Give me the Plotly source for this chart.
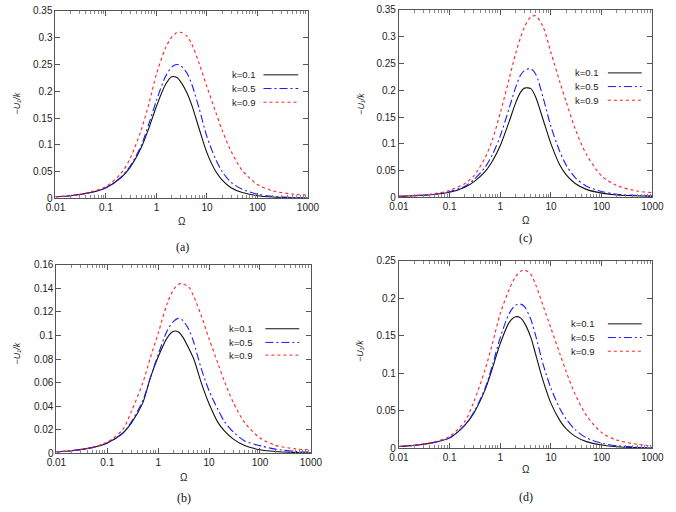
import plotly.graph_objects as go

W, H = 676, 512

omega = [0.01, 0.02, 0.05, 0.1, 0.2, 0.3, 0.5, 0.7, 1, 1.5, 2, 2.5, 3, 4, 5, 7,
         10, 15, 20, 30, 50, 100, 200, 500, 1000]

k_labels = ["k=0.1", "k=0.5", "k=0.9"]

# panel (a)
a_k01 = [0.003, 0.005, 0.011, 0.020, 0.039, 0.058, 0.095, 0.130, 0.172, 0.212, 0.227, 0.226, 0.218,
         0.197, 0.174, 0.130, 0.085, 0.050, 0.034, 0.020, 0.011, 0.005, 0.0025, 0.0012, 0.0007]
a_k05 = [0.003, 0.005, 0.011, 0.020, 0.040, 0.060, 0.099, 0.138, 0.183, 0.227, 0.245, 0.250, 0.248,
         0.234, 0.213, 0.168, 0.115, 0.072, 0.050, 0.030, 0.017, 0.008, 0.004, 0.0018, 0.001]
a_k09 = [0.003, 0.005, 0.012, 0.022, 0.047, 0.074, 0.128, 0.175, 0.232, 0.280, 0.301, 0.309, 0.310,
         0.303, 0.288, 0.252, 0.208, 0.160, 0.127, 0.088, 0.052, 0.026, 0.014, 0.008, 0.006]

# panel (b)
b_k01 = [0.0012, 0.0022, 0.0048, 0.0088, 0.017, 0.026, 0.043, 0.064, 0.082, 0.098, 0.1035, 0.103, 0.099,
         0.089, 0.080, 0.060, 0.042, 0.026, 0.019, 0.012, 0.0065, 0.003, 0.0015, 0.0007, 0.0004]
b_k05 = [0.0012, 0.0022, 0.0048, 0.0088, 0.017, 0.027, 0.045, 0.064, 0.084, 0.104, 0.112, 0.1145, 0.113,
         0.105, 0.094, 0.072, 0.053, 0.037, 0.027, 0.018, 0.0105, 0.0065, 0.0035, 0.0016, 0.0009]
b_k09 = [0.0012, 0.0023, 0.005, 0.0095, 0.020, 0.036, 0.060, 0.081, 0.102, 0.127, 0.139, 0.1435, 0.144,
         0.141, 0.133, 0.117, 0.097, 0.076, 0.061, 0.043, 0.026, 0.013, 0.0068, 0.0037, 0.0028]

# panel (c)
c_k01 = [0.002, 0.003, 0.0055, 0.0095, 0.019, 0.029, 0.048, 0.068, 0.097, 0.142, 0.176, 0.196, 0.204,
         0.203, 0.187, 0.145, 0.100, 0.060, 0.042, 0.026, 0.015, 0.008, 0.0045, 0.003, 0.002]
c_k05 = [0.002, 0.0032, 0.006, 0.0105, 0.021, 0.033, 0.056, 0.080, 0.115, 0.167, 0.205, 0.228, 0.237,
         0.240, 0.230, 0.186, 0.132, 0.085, 0.060, 0.037, 0.021, 0.011, 0.006, 0.0035, 0.0025]
c_k09 = [0.002, 0.0035, 0.007, 0.013, 0.026, 0.040, 0.074, 0.108, 0.158, 0.222, 0.268, 0.298, 0.318,
         0.337, 0.339, 0.318, 0.270, 0.215, 0.178, 0.128, 0.080, 0.040, 0.022, 0.012, 0.009]

# panel (d)
d_k01 = [0.0025, 0.004, 0.008, 0.014, 0.031, 0.047, 0.078, 0.107, 0.140, 0.168, 0.1755, 0.174, 0.167,
         0.148, 0.125, 0.090, 0.060, 0.037, 0.026, 0.016, 0.009, 0.0045, 0.0022, 0.001, 0.0006]
d_k05 = [0.0025, 0.004, 0.008, 0.014, 0.031, 0.048, 0.080, 0.111, 0.148, 0.180, 0.191, 0.1923, 0.189,
         0.172, 0.150, 0.112, 0.080, 0.053, 0.039, 0.025, 0.014, 0.007, 0.0035, 0.0016, 0.0009]
d_k09 = [0.0025, 0.0042, 0.0085, 0.016, 0.036, 0.062, 0.105, 0.140, 0.180, 0.212, 0.229, 0.236, 0.238,
         0.232, 0.218, 0.190, 0.160, 0.126, 0.102, 0.072, 0.044, 0.021, 0.011, 0.0055, 0.0035]

x_tickvals = [0.01, 0.1, 1, 10, 100, 1000]
x_ticktext = ["0.01", "0.1", "1", "10", "100", "1000"]

panels = [
    dict(tag="(a)", data=[a_k01, a_k05, a_k09], box=(47, 308, 5, 197), yr=0.35, dt=0.05,
         lab=(178, 247), om=(178, 221), yt=(7, 100),
         leg=dict(tx=256, l0=262, l1=298, ys=[70.5, 84.5, 98.5])),
    dict(tag="(c)", data=[c_k01, c_k05, c_k09], box=(402, 664, 4, 196), yr=0.35, dt=0.05,
         lab=(533, 238), om=(533, 220), yt=(362, 100),
         leg=dict(tx=611, l0=618, l1=653, ys=[68.5, 82.5, 96.5])),
    dict(tag="(b)", data=[b_k01, b_k05, b_k09], box=(48, 311, 265, 458), yr=0.16, dt=0.02,
         lab=(180, 504), om=(180, 483), yt=(7, 356),
         leg=dict(tx=253, l0=264, l1=299, ys=[330.5, 344.5, 357.5])),
    dict(tag="(d)", data=[d_k01, d_k05, d_k09], box=(402, 664, 261, 453), yr=0.25, dt=0.05,
         lab=(533, 503), om=(533, 475), yt=(362, 353),
         leg=dict(tx=607, l0=618, l1=653, ys=[325.5, 339.5, 353.5])),
]

colors = ["#111111", "#1a1aff", "#ff2020"]
dashes = ["solid", "8px,3px,2px,3px", "3px,3px"]
widths = [1.1, 1.1, 1.1]

SANS = "Liberation Sans"
SERIF = "Liberation Serif"

fig = go.Figure()
annotations = []
shapes = []
layout = {}

tickfont = dict(family=SANS, size=10, color="#222222")
axcolor = "#555555"

for i, p in enumerate(panels):
    n = "" if i == 0 else str(i + 1)
    xa, ya = "x" + n, "y" + n
    L, R, T, B = p["box"]
    for j, ser in enumerate(p["data"]):
        fig.add_trace(go.Scatter(
            x=omega, y=ser, xaxis=xa, yaxis=ya, mode="lines", name=k_labels[j],
            showlegend=False,
            line=dict(color=colors[j], dash=dashes[j], width=widths[j], shape="spline", smoothing=0.8)))
    layout["xaxis" + n] = dict(
        domain=[L / W, R / W], anchor=ya, type="log", range=[-2, 3],
        tickvals=x_tickvals, ticktext=x_ticktext, ticks="inside", ticklen=5,
        tickcolor=axcolor, showline=True, linecolor=axcolor, linewidth=1, mirror="ticks",
        showgrid=False, zeroline=False, tickfont=tickfont,
        minor=dict(ticks="inside", ticklen=3, tickcolor="#888888", dtick="D1", showgrid=False))
    layout["yaxis" + n] = dict(
        domain=[1 - B / H, 1 - T / H], anchor=xa, range=[0, p["yr"]], dtick=p["dt"], tick0=0,
        ticks="inside", ticklen=5, tickcolor=axcolor, showline=True, linecolor=axcolor,
        linewidth=1, mirror="ticks", showgrid=False, zeroline=False, tickfont=tickfont)
    annotations.append(dict(text=p["tag"], x=p["lab"][0] / W, y=1 - p["lab"][1] / H, xref="paper",
                            yref="paper", showarrow=False, xanchor="center", yanchor="middle",
                            font=dict(family=SERIF, size=12, color="#111111")))
    annotations.append(dict(text="Ω", x=p["om"][0] / W, y=1 - p["om"][1] / H, xref="paper",
                            yref="paper", showarrow=False, xanchor="center", yanchor="middle",
                            font=dict(family=SANS, size=10, color="#222222")))
    annotations.append(dict(text="−U₁/k", x=p["yt"][0] / W, y=1 - p["yt"][1] / H,
                            xref="paper", yref="paper", showarrow=False, textangle=-90,
                            xanchor="center", yanchor="middle",
                            font=dict(family=SANS, size=9, color="#222222", style="italic")))
    lg = p["leg"]
    for j in range(3):
        yy = 1 - lg["ys"][j] / H
        annotations.append(dict(text=k_labels[j], x=lg["tx"] / W, y=yy, xref="paper", yref="paper",
                                showarrow=False, xanchor="right", yanchor="middle",
                                font=dict(family=SANS, size=9.5, color="#222222")))
        shapes.append(dict(type="line", xref="paper", yref="paper", x0=lg["l0"] / W, x1=lg["l1"] / W,
                           y0=yy, y1=yy, line=dict(color=colors[j], dash=dashes[j], width=1)))

fig.update_layout(width=W, height=H, margin=dict(l=0, r=0, t=0, b=0),
                  paper_bgcolor="white", plot_bgcolor="white",
                  annotations=annotations, shapes=shapes, showlegend=False, **layout)

fig.write_html("out.html")
